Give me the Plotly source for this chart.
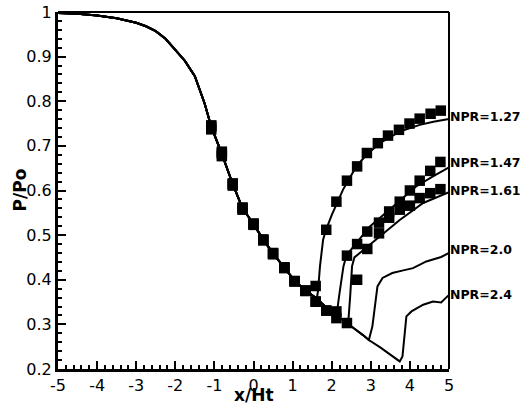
import plotly.graph_objects as go

# shared upstream solution (all NPR collapse onto it)
common_x = [-5, -4.5, -4, -3.5, -3, -2.75, -2.5, -2.25, -2, -1.75, -1.5, -1.25, -1.08, -0.81,
            -0.53, -0.28, 0, 0.25, 0.5, 0.79, 1.05, 1.33, 1.5, 1.62, 1.75, 2.0, 2.12, 2.25,
            2.42, 2.6, 2.8, 2.95, 3.25, 3.5, 3.74]
common_y = [0.998, 0.996, 0.992, 0.986, 0.976, 0.968, 0.957, 0.94, 0.915, 0.89, 0.856, 0.795,
            0.743, 0.682, 0.614, 0.56, 0.525, 0.49, 0.459, 0.427, 0.398, 0.376, 0.366, 0.358,
            0.347, 0.328, 0.318, 0.312, 0.3, 0.289, 0.276, 0.265, 0.248, 0.232, 0.217]

npr_names = ["NPR=1.27", "NPR=1.47", "NPR=1.61", "NPR=2.0", "NPR=2.4"]
npr_split = [1.62, 2.12, 2.42, 2.95, 3.74]  # where each curve leaves the common line

cfd_x = [
    [1.65, 1.70, 1.78, 1.86, 2.0, 2.29, 2.63, 2.89, 3.23, 3.74, 4.25, 4.6, 5.0],
    [2.2, 2.3, 2.38, 2.5, 2.7, 2.97, 3.57, 4.16, 4.6, 5.0],
    [2.47, 2.52, 2.58, 2.72, 3.14, 3.74, 4.34, 4.7, 5.0],
    [3.04, 3.13, 3.17, 3.3, 3.55, 3.83, 4.08, 4.42, 4.8, 5.0],
    [3.81, 3.87, 3.91, 4.04, 4.34, 4.59, 4.8, 4.88, 5.0],
]
cfd_y = [
    [0.375, 0.43, 0.49, 0.513, 0.545, 0.602, 0.654, 0.68, 0.706, 0.732, 0.747, 0.754, 0.760],
    [0.37, 0.43, 0.455, 0.468, 0.49, 0.519, 0.564, 0.609, 0.632, 0.652],
    [0.36, 0.43, 0.45, 0.46, 0.489, 0.534, 0.572, 0.586, 0.596],
    [0.295, 0.355, 0.385, 0.404, 0.415, 0.421, 0.426, 0.441, 0.451, 0.46],
    [0.228, 0.28, 0.318, 0.329, 0.344, 0.351, 0.349, 0.356, 0.366],
]
label_y = [0.765, 0.663, 0.601, 0.467, 0.366]

# experiment (NPR 1.27, 1.47, 1.61)
exp_up_x = [-1.08, -0.81, -0.53, -0.28, 0.0, 0.25, 0.5, 0.79, 1.05, 1.33]
exp_up_y = [
    [0.746, 0.687, 0.616, 0.562, 0.526, 0.49, 0.46, 0.428, 0.397, 0.376],
    [0.743, 0.683, 0.614, 0.56, 0.525, 0.49, 0.459, 0.427, 0.397, 0.375],
    [0.737, 0.677, 0.611, 0.557, 0.523, 0.488, 0.457, 0.426, 0.396, 0.375],
]
exp_dn_x = [
    [1.59, 1.86, 2.12, 2.39, 2.65, 2.90, 3.18, 3.44, 3.72, 3.99, 4.25, 4.53, 4.79],
    [1.59, 1.86, 2.12, 2.39, 2.65, 2.91, 3.21, 3.47, 3.74, 4.0, 4.25, 4.52, 4.78],
    [1.59, 1.86, 2.12, 2.39, 2.65, 2.91, 3.21, 3.47, 3.74, 4.0, 4.25, 4.52, 4.78],
]
exp_dn_y = [
    [0.386, 0.512, 0.575, 0.622, 0.654, 0.684, 0.706, 0.723, 0.736, 0.750, 0.761, 0.772, 0.779],
    [0.351, 0.331, 0.329, 0.454, 0.48, 0.508, 0.528, 0.553, 0.575, 0.60, 0.622, 0.644, 0.664],
    [0.351, 0.331, 0.314, 0.303, 0.40, 0.469, 0.504, 0.539, 0.557, 0.566, 0.583, 0.594, 0.603],
]

x_ticks = [-5, -4, -3, -2, -1, 0, 1, 2, 3, 4, 5]
x_tick_text = ["-5", "-4", "-3", "-2", "-1", "0", "1", "2", "3", "4", "5"]
y_ticks = [0.2, 0.3, 0.4, 0.5, 0.6, 0.7, 0.8, 0.9, 1.0]
y_tick_text = ["0.2", "0.3", "0.4", "0.5", "0.6", "0.7", "0.8", "0.9", "1"]

FONT = "DejaVu Sans, Arial, sans-serif"

fig = go.Figure()

for i, name in enumerate(npr_names):
    xs = [x for x in common_x if x <= npr_split[i]]
    ys = common_y[:len(xs)]
    fig.add_trace(go.Scatter(
        x=xs + cfd_x[i], y=ys + cfd_y[i],
        mode="lines", line=dict(color="black", width=2),
        showlegend=False, hoverinfo="skip", cliponaxis=False,
    ))

for i in range(3):
    fig.add_trace(go.Scatter(
        x=exp_up_x + exp_dn_x[i], y=exp_up_y[i] + exp_dn_y[i],
        mode="markers",
        marker=dict(symbol="square", size=10.5, color="black"),
        showlegend=False, name=npr_names[i] + " exp",
    ))

for i, name in enumerate(npr_names):
    fig.add_annotation(
        x=5, y=label_y[i], xref="x", yref="y",
        text="<b>" + name + "</b>", showarrow=False,
        xanchor="left", yanchor="middle", xshift=-1,
        font=dict(family=FONT, size=12.5, color="black"),
    )

# axis titles placed by hand
fig.add_annotation(x=0.5, y=0, xref="paper", yref="paper", yshift=-26,
                   text="<b>x/Ht</b>", showarrow=False, xanchor="center", yanchor="middle",
                   font=dict(family=FONT, size=17, color="black"))
fig.add_annotation(x=0, y=0.5, xref="paper", yref="paper", xshift=-39, textangle=-90,
                   text="<b>P/Po</b>", showarrow=False, xanchor="center", yanchor="middle",
                   font=dict(family=FONT, size=17, color="black"))

# top and right frame lines (thinner than the axes)
fig.add_shape(type="line", xref="paper", yref="paper", x0=0, x1=1, y0=1, y1=1,
              line=dict(color="black", width=2))
fig.add_shape(type="line", xref="paper", yref="paper", x0=1, x1=1, y0=0, y1=1,
              line=dict(color="black", width=2))

fig.update_xaxes(
    range=[-5, 5], tickvals=x_ticks, ticktext=x_tick_text, ticks="inside", ticklen=8,
    tickwidth=2, tickcolor="black", showline=True, linewidth=3, linecolor="black",
    showgrid=False, zeroline=False, automargin=False,
    minor=dict(dtick=0.2, ticks="inside", ticklen=4, tickwidth=1.5, tickcolor="black"),
    tickfont=dict(family=FONT, size=16, color="black"),
)
fig.update_yaxes(
    range=[0.2, 1], tickvals=y_ticks, ticktext=y_tick_text, ticks="inside", ticklen=8,
    tickwidth=2, tickcolor="black", showline=True, linewidth=3, linecolor="black",
    showgrid=False, zeroline=False, automargin=False,
    minor=dict(dtick=0.02, ticks="inside", ticklen=4, tickwidth=1.5, tickcolor="black"),
    tickfont=dict(family=FONT, size=16, color="black"),
)
fig.update_layout(
    width=520, height=408,
    margin=dict(l=58, r=71, t=12, b=39),
    plot_bgcolor="white", paper_bgcolor="white",
)

fig.write_html("out.html", config={"displayModeBar": False},
               post_script="document.body.style.margin='0';")
